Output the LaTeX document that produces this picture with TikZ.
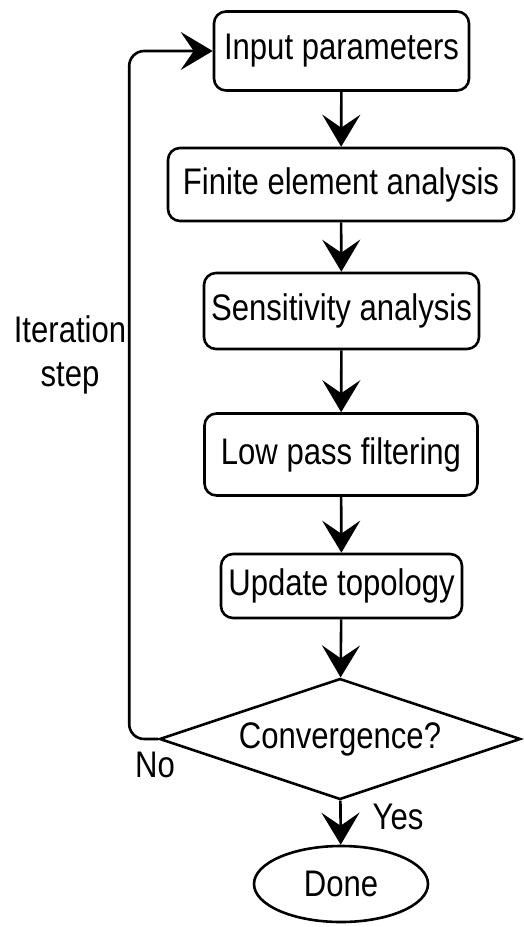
\documentclass[tikz,border=0pt]{standalone}
\usepackage{fontspec}
\setmainfont{Liberation Sans}[FakeStretch=0.84]
\usetikzlibrary{arrows.meta,shapes.geometric}
\begin{document}
\begin{tikzpicture}[x=1pt,y=1pt,line width=2.6pt,
  txt/.style={font=\fontsize{37}{44}\selectfont},
  box/.style={txt,draw,rounded corners=12pt,inner sep=0pt},
  arr/.style={-{Stealth[length=32pt,width=38pt,inset=13pt]}}]
\useasboundingbox (0,0) rectangle (523,-927);
\node[box,minimum width=255pt,minimum height=79pt] (inp) at (341.5,-51) {Input parameters};
\node[box,minimum width=346pt,minimum height=73pt] (fea) at (341,-184.5) {Finite element analysis};
\node[box,minimum width=275pt,minimum height=76pt] (sen) at (341.5,-311) {Sensitivity analysis};
\node[box,minimum width=273pt,minimum height=82pt] (low) at (341,-454.5) {Low pass filtering};
\node[box,minimum width=241pt,minimum height=64pt] (upd) at (341.5,-586) {Update topology};
\node[txt,draw,diamond,aspect=2.94,minimum width=361pt,minimum height=121pt,inner sep=0pt] (dec) at (340,-739) {Convergence?};
\node[txt,draw,ellipse,minimum width=174pt,minimum height=76pt,inner sep=0pt] (done) at (341,-884) {Done};
\node[txt,align=center] (iter) at (70,-355) {Iteration\\step};
\node[txt] (no) at (155,-765) {No};
\node[txt] (yes) at (398,-817) {Yes};
\draw[arr] (inp) -- (fea);
\draw[arr] (fea) -- (sen);
\draw[arr] (sen) -- (low);
\draw[arr] (low) -- (upd);
\draw[arr] (upd) -- (dec);
\draw[arr] (dec) -- (done);
\draw[arr,rounded corners=15pt] (dec.west) -- ++(-29,0) |- (inp.west);
\end{tikzpicture}
\end{document}
